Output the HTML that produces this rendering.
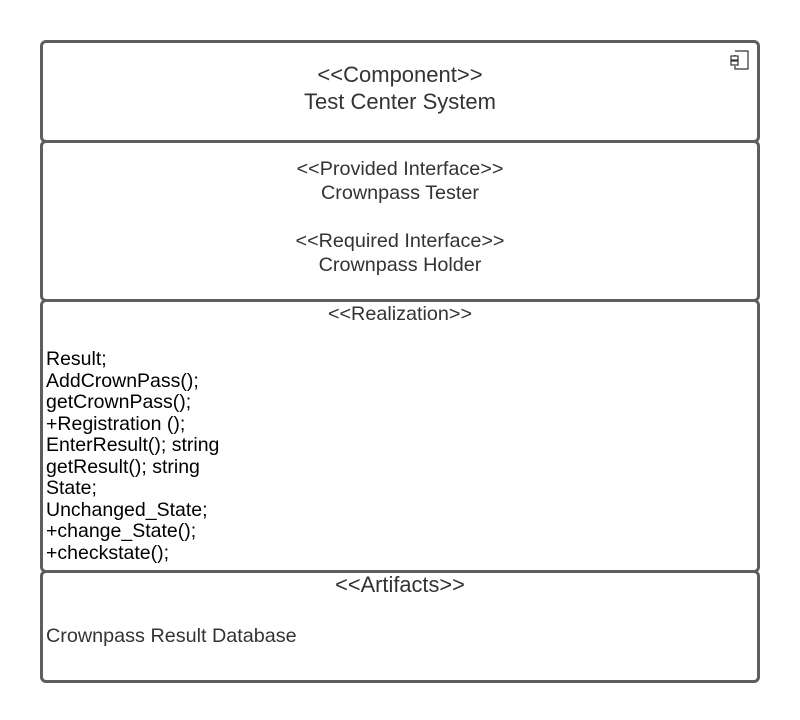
<!DOCTYPE html>
<html><head><style>
body{margin:0;width:800px;height:720px;background:#fff;position:relative;font-family:"Liberation Sans",sans-serif;overflow:hidden}
.b{position:absolute;left:40px;width:714px;border:3px solid #5e5e5e;border-radius:6px;box-sizing:content-box}
.t{position:absolute;left:0;width:800px;text-align:center;color:#333}
.m{position:absolute;left:46px;font-size:19.5px;line-height:21.5px;color:#000}
</style></head><body>
<div class="b" style="top:40px;height:97px"></div>
<div class="b" style="top:140px;height:156px"></div>
<div class="b" style="top:299px;height:268px"></div>
<div class="b" style="top:570px;height:107px"></div>
<svg style="position:absolute;left:728px;top:49px" width="24" height="24"><path d="M7 2h13v18H7v-3M7 8V6M7 13v-1" fill="none" stroke="#333" stroke-width="1.2"/><rect x="3" y="7" width="7" height="4" fill="#fff" stroke="#333" stroke-width="1.2"/><rect x="3" y="12" width="7" height="4" fill="#fff" stroke="#333" stroke-width="1.2"/></svg>
<div class="t" style="top:61px;font-size:22px;line-height:27px">&lt;&lt;Component&gt;&gt;<br>Test Center System</div>
<div class="t" style="top:157px;font-size:19.8px;line-height:24px">&lt;&lt;Provided Interface&gt;&gt;<br>Crownpass Tester<br><br>&lt;&lt;Required Interface&gt;&gt;<br>Crownpass Holder</div>
<div class="t" style="top:302px;font-size:19.8px;line-height:24px">&lt;&lt;Realization&gt;&gt;</div>
<div class="m" style="top:349px">Result;<br>AddCrownPass();<br>getCrownPass();<br>+Registration ();<br>EnterResult(); string<br>getResult(); string<br>State;<br>Unchanged_State;<br>+change_State();<br>+checkstate();</div>
<div class="t" style="top:572px;font-size:21.8px;line-height:26px">&lt;&lt;Artifacts&gt;&gt;</div>
<div class="m" style="top:626px;font-size:19.8px;color:#333">Crownpass Result Database</div>
</body></html>
